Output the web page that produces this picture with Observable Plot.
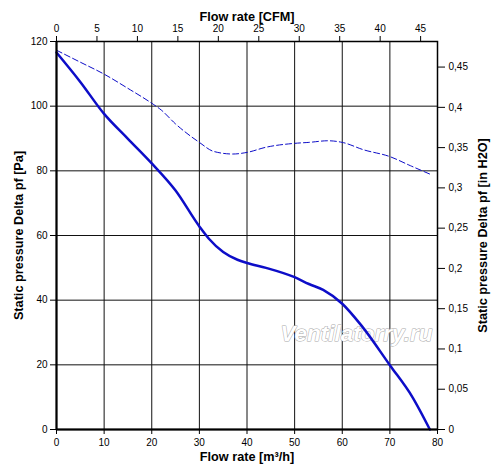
<!DOCTYPE html>
<html>
<head>
<meta charset="utf-8">
<script src="https://cdn.jsdelivr.net/npm/d3@7"></script>
<script src="https://cdn.jsdelivr.net/npm/@observablehq/plot@0.6"></script>
<style>
  html, body { margin: 0; padding: 0; background: #fff; }
  svg { display: block; }
</style>
</head>
<body>
<div id="chart"></div>
<script>
// Solid curve: static pressure [Pa] vs flow [m³/h]
const flowSolid = [0, 5, 10, 15, 20, 25, 30, 32, 35, 38, 40, 44, 50, 53, 56, 60, 64, 70, 74.7, 78.4];
const pressSolid = [116.6, 107.5, 97.6, 89.9, 82.3, 73.9, 62.8, 59, 54.9, 52.5, 51.5, 50, 47.1, 45, 43.2, 38.9, 32.2, 19.9, 10.1, 0];
// Dashed curve
const flowDashed = [0, 5, 10, 15, 20, 22, 25, 28, 30, 33, 37, 40, 44, 50, 53, 57, 60, 64.5, 70, 74.3, 78.7];
const pressDashed = [117.3, 113.6, 109.9, 105.5, 100.9, 98.8, 94.5, 90.9, 88.8, 86, 85.2, 85.7, 87.3, 88.5, 88.8, 89.3, 88.8, 86.5, 84.4, 81.6, 78.8];

// Tick labels
const m3hTicks = [0, 10, 20, 30, 40, 50, 60, 70, 80];
const paTicks = [0, 20, 40, 60, 80, 100, 120];
const cfmTicks = [0, 5, 10, 15, 20, 25, 30, 35, 40, 45];
const inH2OTicks = [0, 0.05, 0.1, 0.15, 0.2, 0.25, 0.3, 0.35, 0.4, 0.45];

const CFM_PER_M3H = 0.588578;
const INH2O_PER_PA = 0.00401463;

const solid = flowSolid.map((f, i) => ({f, p: pressSolid[i]}));
const dashed = flowDashed.map((f, i) => ({f, p: pressDashed[i]}));

const font = "Liberation Sans, Arial, sans-serif";
const blue = "#0d0dc8";

const chart = Plot.plot({
  width: 500,
  height: 475,
  marginLeft: 56,
  marginRight: 63,
  marginTop: 41,
  marginBottom: 46,
  style: {fontFamily: font, fontSize: "10px", color: "#000", background: "#fff"},
  x: {domain: [0, 80]},
  y: {domain: [0, 120]},
  marks: [
    Plot.gridX(m3hTicks.filter(d => d > 0 && d < 80), {stroke: "#111", strokeOpacity: 1, strokeWidth: 1}),
    Plot.gridY(paTicks.filter(d => d > 0 && d < 120), {stroke: "#111", strokeOpacity: 1, strokeWidth: 1}),
    Plot.text(["Ventilatorry.ru"], {frameAnchor: "bottom-right", dx: -5, dy: -89, textAnchor: "end",
      fontSize: 22.5, fontWeight: "bold", fontStyle: "italic", fill: "#fff", stroke: "#a8a8a8", strokeWidth: 1}),
    Plot.line(dashed, {x: "f", y: "p", stroke: blue, strokeWidth: 1, strokeDasharray: "6,3", curve: "monotone-x"}),
    Plot.line(solid, {x: "f", y: "p", stroke: blue, strokeWidth: 2.5, curve: "monotone-x"}),
    Plot.frame({stroke: "#000", strokeWidth: 1.5}),
    Plot.ruleX([0], {stroke: "#000", strokeWidth: 2}),
    Plot.ruleY([0], {stroke: "#000", strokeWidth: 2}),
    Plot.axisX({anchor: "bottom", ticks: m3hTicks, tickSize: 5, tickPadding: 4, label: null}),
    Plot.axisX({anchor: "top", ticks: cfmTicks.map(c => c / CFM_PER_M3H), tickSize: 6, tickPadding: 4,
      tickFormat: d => String(Math.round(d * CFM_PER_M3H)), label: null}),
    Plot.axisY({anchor: "left", ticks: paTicks, tickSize: 6, tickPadding: 3, label: null}),
    Plot.axisY({anchor: "right", ticks: inH2OTicks.map(v => v / INH2O_PER_PA), tickSize: 7, tickPadding: 4,
      tickFormat: d => String(+(d * INH2O_PER_PA).toFixed(2)).replace(".", ","), label: null}),
    Plot.text(["Flow rate [CFM]"], {frameAnchor: "top", dy: -30, fontWeight: "bold", fontSize: 12.7, fill: "#000"}),
    Plot.text(["Flow rate [m³/h]"], {frameAnchor: "bottom", dy: 31, fontWeight: "bold", fontSize: 12.7, fill: "#000"}),
    Plot.text(["Static pressure Delta pf [Pa]"], {frameAnchor: "left", dx: -38, rotate: -90, textAnchor: "middle", fontWeight: "bold", fontSize: 12.7, fill: "#000"}),
    Plot.text(["Static pressure Delta pf [in H2O]"], {frameAnchor: "right", dx: 45, rotate: -90, textAnchor: "middle", fontWeight: "bold", fontSize: 12.7, fill: "#000"})
  ]
});
document.getElementById("chart").appendChild(chart);
</script>
</body>
</html>
